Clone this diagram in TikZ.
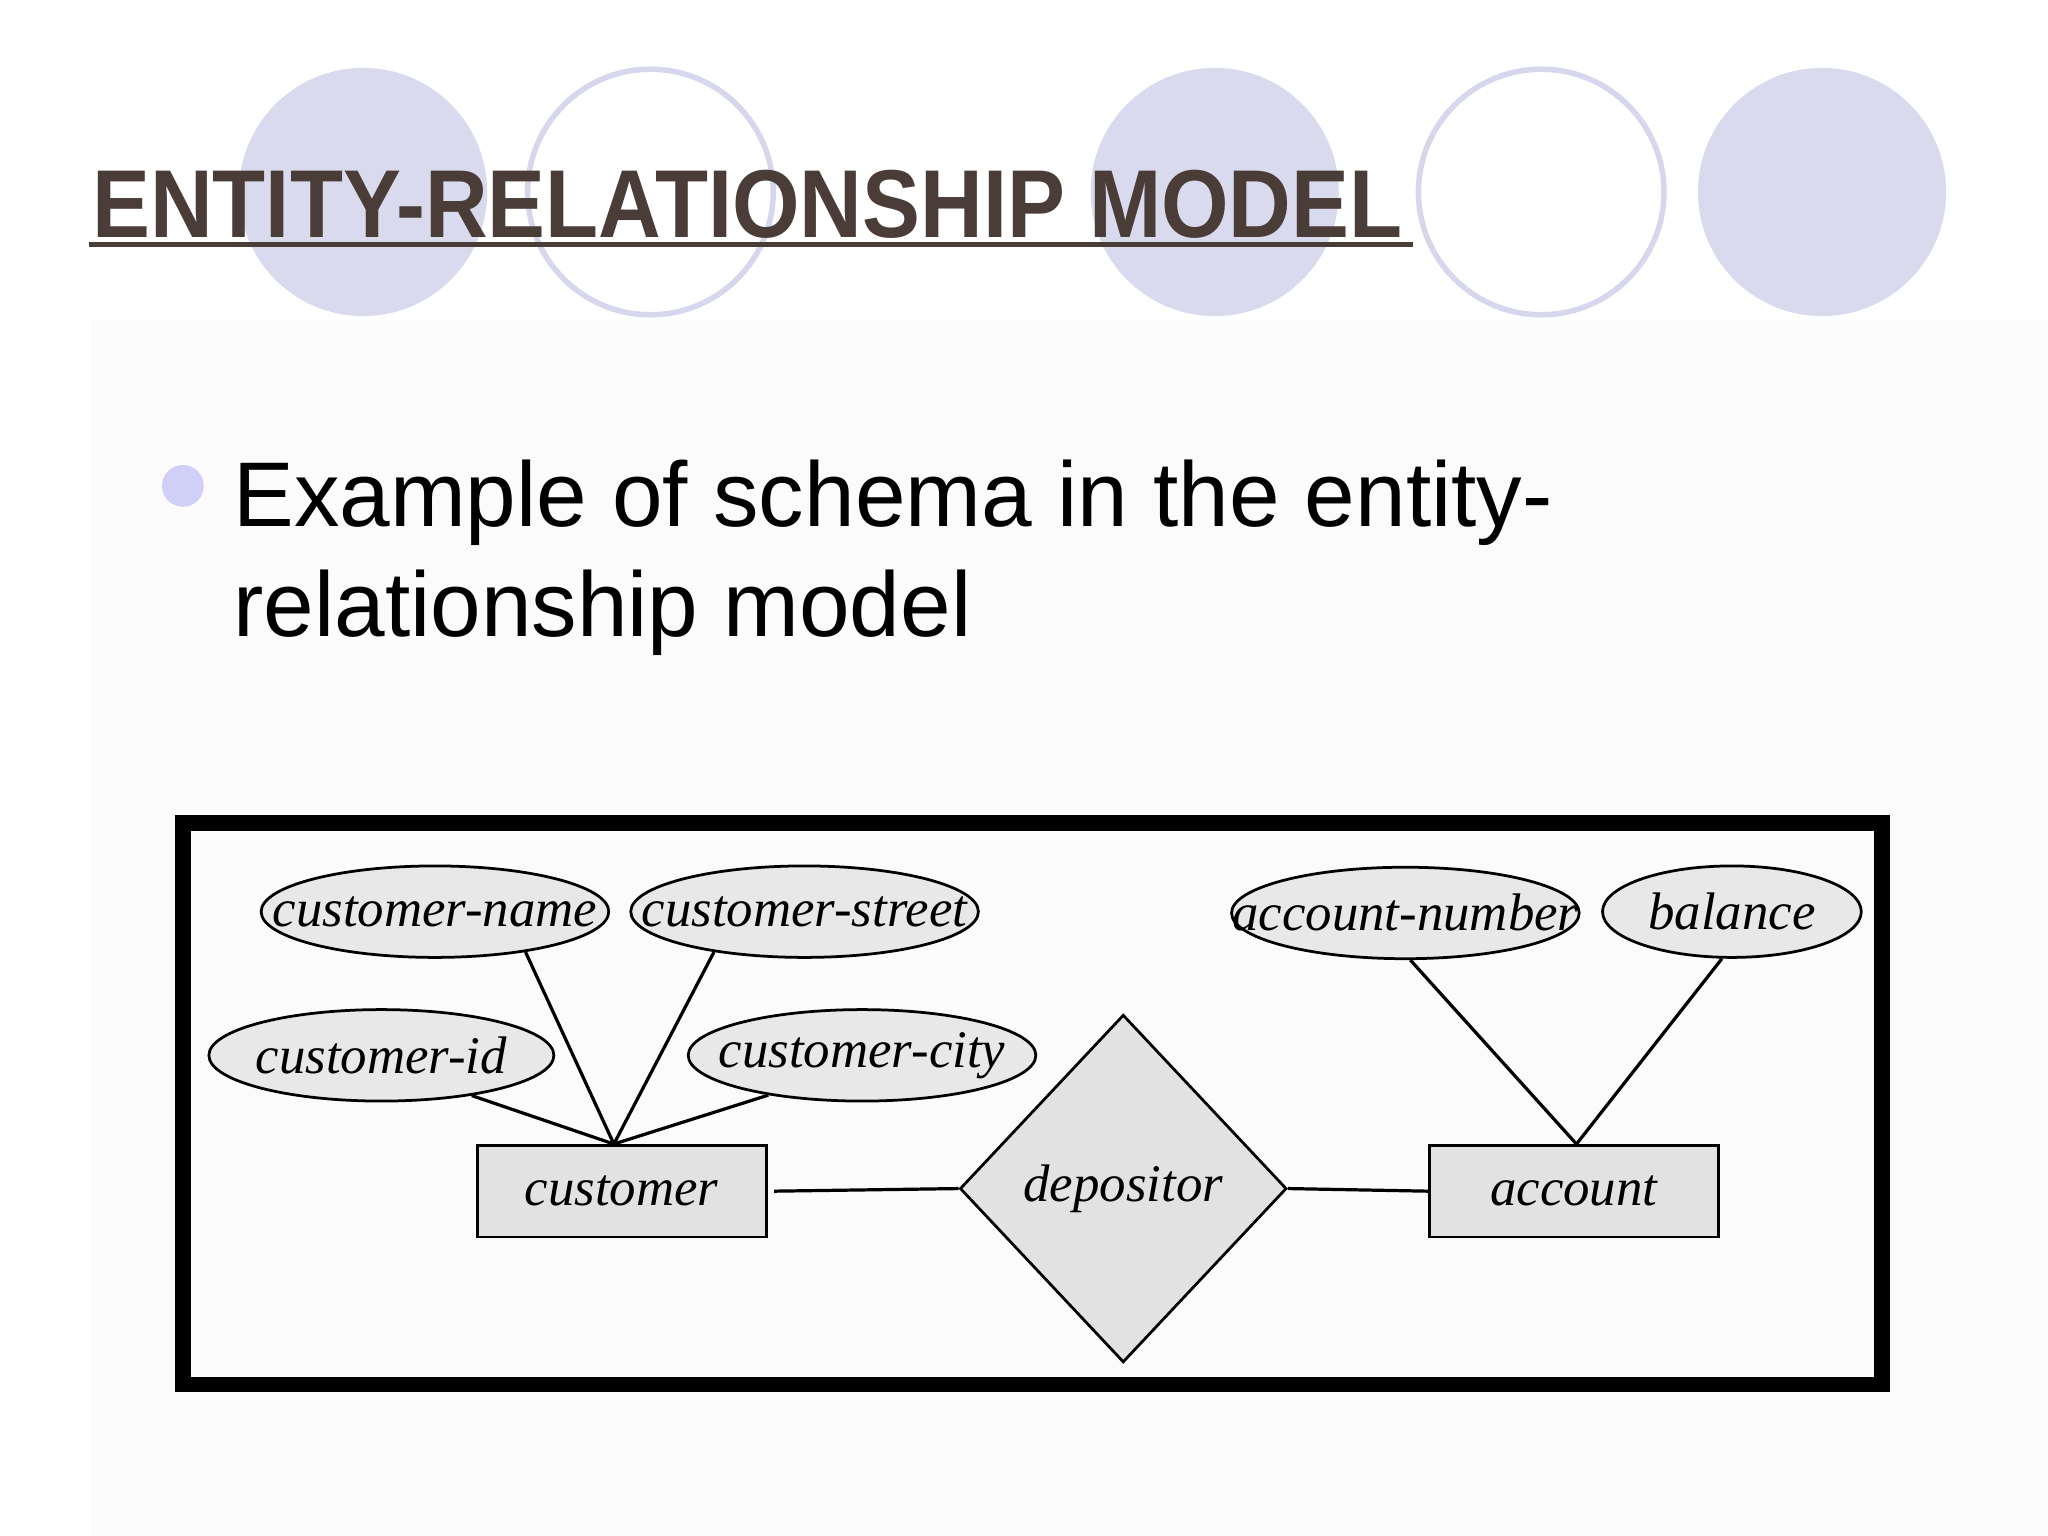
\documentclass[tikz,border=0pt]{standalone}
\usepackage{fontspec}
\usepackage{graphicx}
\setmainfont{Liberation Serif}
\setsansfont{Liberation Sans}
\usetikzlibrary{shapes.geometric}
\definecolor{lav}{RGB}{218,218,238}
\definecolor{lavline}{RGB}{214,214,236}
\definecolor{titlec}{RGB}{74,60,54}
\definecolor{attrfill}{RGB}{232,232,232}
\definecolor{entfill}{RGB}{226,226,226}
\begin{document}
\begin{tikzpicture}[x=0.01cm,y=-0.01cm,
  attr/.style={ellipse,draw,line width=0.6pt,fill=attrfill,inner sep=0pt,minimum height=0.7cm,
    label={[font=\fontsize{11.5}{14}\itshape\selectfont,inner sep=0pt]center:#1}},
  ent/.style={rectangle,draw,line width=0.6pt,fill=entfill,minimum width=2.21cm,minimum height=0.7cm,font=\fontsize{11.5}{14}\itshape},
  conn/.style={line width=0.7pt}]
\useasboundingbox (0,0) rectangle (1568,1176);
\fill[white] (0,0) rectangle (1568,1176);
\fill[black!1.5] (70,245) rectangle (1568,1176);
% circles
\fill[lav] (278,147) circle (95);
\draw[lavline,line width=1.2pt] (498,147) circle (94);
\fill[lav] (930,147) circle (95);
\draw[lavline,line width=1.2pt] (1180,147) circle (94);
\fill[lav] (1395,147) circle (95);
% title
\node[anchor=base west,inner sep=0pt,text=titlec,font=\sffamily\bfseries\fontsize{21}{24}\selectfont] (title) at (70,182) {\scalebox{0.9}[1]{ENTITY-RELATIONSHIP MODEL}};
\draw[titlec,line width=1pt] (68,187) -- (1082,187);
% bullet
\fill[lav!80!blue!60] (140,372) circle (16);
\node[anchor=base west,inner sep=0pt,font=\sffamily\fontsize{20}{24}\selectfont] (b1) at (178,403) {\scalebox{0.99}[1]{Example of schema in the entity-}};
\node[anchor=base west,inner sep=0pt,font=\sffamily\fontsize{20}{24}\selectfont] (b2) at (178,487) {\scalebox{0.99}[1]{relationship model}};
% frame
\draw[line width=3.4pt] (140,630) rectangle (1441,1060);
% attributes
\node[attr=customer-name,minimum width=2.66cm] (cn) at (333,698) {};
\node[attr=customer-street,minimum width=2.66cm] (cs) at (616,698) {};
\node[attr=customer-id,minimum width=2.64cm] (ci) at (292,808) {};
\node[attr=customer-city,minimum width=2.66cm] (cc) at (660,808) {};
\node[attr=account-number,minimum width=2.66cm] (an) at (1076,699) {};
\node[attr=balance,minimum width=1.98cm] (ba) at (1326,698) {};
% entities
\node[ent] (cu) at (476,912) {customer};
\node[ent] (ac) at (1205,912) {account};
\node[diamond,draw,line width=0.6pt,fill=entfill,minimum width=2.5cm,minimum height=2.66cm,inner sep=0pt,font=\fontsize{11.5}{14}\itshape] (de) at (860,910) {depositor};
% connectors
\draw[conn] (cn.-24) -- ([xshift=-0.06cm]cu.north);
\draw[conn] (cs.-156) -- ([xshift=-0.06cm]cu.north);
\draw[conn] (ci.-24) -- ([xshift=-0.06cm]cu.north);
\draw[conn] (cc.-157) -- ([xshift=-0.06cm]cu.north);
\draw[conn] (an.-84) -- ([xshift=0.02cm]ac.north);
\draw[conn] (ba.-102) -- ([xshift=0.02cm]ac.north);
\draw[conn] ([xshift=0.05cm]cu.east) -- (de.west);
\draw[conn] (de.east) -- (ac.west);
\end{tikzpicture}
\end{document}
